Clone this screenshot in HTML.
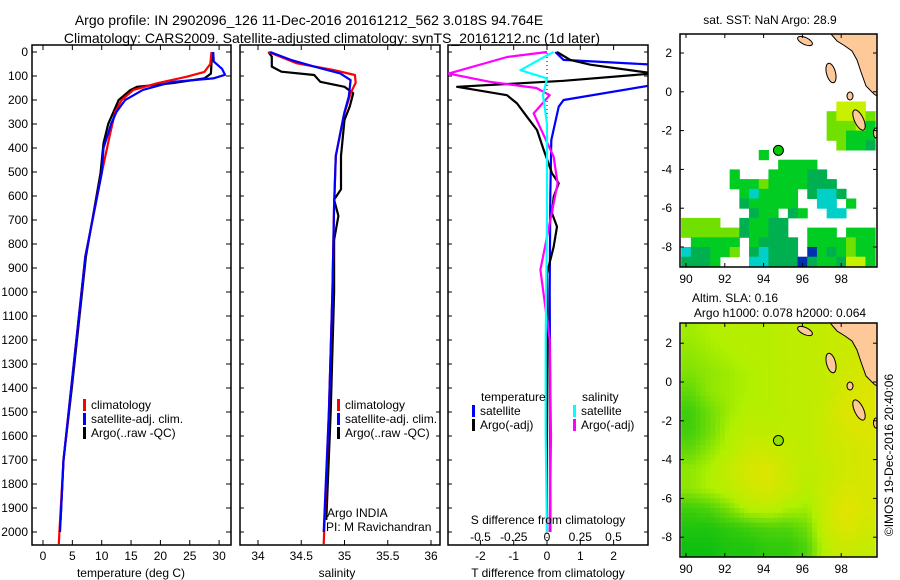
<!DOCTYPE html>
<html><head><meta charset="utf-8"><style>
body{margin:0;background:#fff;}
svg{display:block;font-family:"Liberation Sans",sans-serif;}
</style></head><body>
<svg id="fig" width="900" height="580" viewBox="0 0 900 580">
<g id="titles" font-size="14" text-anchor="middle">
<text x="309" y="25">Argo profile: IN 2902096_126 11-Dec-2016 20161212_562 3.018S 94.764E</text>
<text x="332" y="43">Climatology: CARS2009. Satellite-adjusted climatology: synTS_20161212.nc (1d later)</text>
</g>
</svg>
<script>
// ---------- data ----------
const depthTicks = [0,100,200,300,400,500,600,700,800,900,1000,1100,1200,1300,1400,1500,1600,1700,1800,1900,2000];
const tempTicks = [0,5,10,15,20,25,30];
const salTicks = [34,34.5,35,35.5,36];
const tdiffTicks = [-2,-1,0,1,2];
const sdiffTicks = [-0.5,-0.25,0,0.25,0.5];
const sdiffTickLabels = ["-0.5","-0.25","0","0.25","0.5"];

const tClimDepth = [0,50,83,103,130,158,200,249,345,505,853,1400,1700,2000,2050];
const tClimVal   = [28.7,28.5,27.5,24.5,19.5,15.4,13.4,12.3,11.4,10.0,7.2,4.8,3.5,2.8,2.7];
const tSatDepth  = [0,40,70,95,110,125,158,200,250,300,400,505,853,1400,1700,2000];
const tSatVal    = [29,29.1,30.5,31,29,22,17,14,12.5,11.6,10.3,10.0,7.2,4.8,3.5,2.9];
const tArgoDepth = [0,90,110,130,145,160,200,300,380,505,853,1400,1700,1950];
const tArgoVal   = [28.8,28.6,27.5,22,16,14.8,12.9,11.1,10.3,9.8,7.3,4.9,3.5,3.0];

const sClimDepth = [0,47,75,96,128,172,267,433,640,1000,1500,2050];
const sClimVal   = [34.12,34.45,34.87,35.12,35.13,35.07,34.99,34.9,34.88,34.86,34.82,34.76];
const sSatDepth  = [0,33,61,89,117,186,250,433,640,1000,1500,2000];
const sSatVal    = [34.14,34.38,34.65,34.95,35.07,35.05,35.0,34.9,34.88,34.86,34.82,34.76];
const sArgoDepth = [0,19,61,82,96,124,145,172,228,283,433,572,615,683,783,1000,1500,1950];
const sArgoVal   = [34.12,34.16,34.16,34.27,34.65,34.72,35.0,35.1,35.06,35.0,34.96,34.96,34.88,34.93,34.88,34.88,34.84,34.79];

const dTSatDepth = [0,33,53,137,200,228,367,600,1000,1500,2000];
const dTSatVal   = [0.25,0.5,3.2,3.2,0.5,0.35,0.13,0.1,0.08,0.1,0.1];
const dTArgoDepth= [0,33,53,89,120,145,180,214,270,325,408,505,547,603,672,728,811,922,1200,1600,2000];
const dTArgoVal  = [0.3,0.7,1.3,3.2,0.5,-2.7,-1.2,-0.9,-0.6,-0.3,-0.1,0.15,0.35,0.2,0.15,0.3,0.2,0.0,0.02,0.0,0.0];
const dSArgoDepth= [0,21,90,124,150,180,256,436,547,686,908,1200,1600,2000];
const dSArgoVal  = [0,-0.3,-0.74,-0.43,-0.08,0.02,-0.1,0.05,0.08,0.03,-0.05,0.02,0.03,0.02];
const dSSatDepth = [0,14,76,110,180,300,700,1200,1600,2000];
const dSSatVal   = [0.05,0.0,-0.2,0.0,-0.03,0.0,0.0,-0.01,-0.01,0.0];

// SST map cells: rows top lat, 0.5deg columns from lon 89.75
const sstRowLat = [-0.5,-1.0,-1.5,-2.0,-2.5,-3.0,-3.5,-4.0,-4.5,-5.0,-5.5,-6.0,-6.5,-7.0,-7.5,-8.0,-8.5];
const sstRows = [
"................yyy.",
"...............lyyyl",
"...............lllyg",
"...............llggg",
"................lggt",
"........g...........",
"..........gggg......",
".....g...ggggtt.....",
".....ggglggggttt....",
"......gcgggg.tcct...",
"......tggggg..cc.g..",
".......tgg.tg..cc...",
"llll..tggtt.........",
"lllllltggtt..ggg.ggg",
".ggggg.gtttt.gggglgg",
"cttggl.tcttt.bgtglgg",
"tttg...cctttbtggtyyg"];
// SLA map: 1deg cells, rows lat 3..-9, lon 89.75..
const slaRowLat = [3,2,1,0,-1,-2,-3,-4,-5,-6,-7,-8];
const slaVals = [
[0.45,0.5,0.55,0.55,0.55,0.6,0.6,0.65,0.7,0.7],
[0.4,0.45,0.5,0.55,0.55,0.6,0.6,0.65,0.7,0.75],
[0.35,0.4,0.45,0.5,0.55,0.6,0.6,0.65,0.75,0.8],
[0.25,0.4,0.45,0.5,0.55,0.6,0.6,0.65,0.8,0.85],
[0.15,0.3,0.45,0.55,0.55,0.6,0.6,0.7,0.85,0.85],
[0.15,0.3,0.5,0.6,0.6,0.6,0.6,0.7,0.8,0.85],
[0.25,0.4,0.55,0.7,0.7,0.65,0.6,0.7,0.75,0.8],
[0.4,0.5,0.65,0.8,0.85,0.7,0.6,0.65,0.75,0.8],
[0.4,0.5,0.6,0.75,0.8,0.7,0.55,0.7,0.8,0.8],
[0.15,0.2,0.35,0.55,0.6,0.5,0.45,0.7,0.9,0.8],
[0.05,0.05,0.1,0.15,0.2,0.2,0.3,0.7,0.85,0.75],
[0.0,0.0,0.05,0.05,0.1,0.1,0.2,0.6,0.7,0.65]];
const lonTicks = [90,92,94,96,98];
const latTicks = [2,0,-2,-4,-6,-8];
const argoLon = 94.764, argoLat = -3.018;

// ---------- helpers ----------
const NS="http://www.w3.org/2000/svg";
const svg=document.getElementById('fig');
function mk(tag,attrs,parent){const e=document.createElementNS(NS,tag);for(const k in attrs)e.setAttribute(k,attrs[k]);(parent||svg).appendChild(e);return e;}
function txt(x,y,s,parent,extra){const t=mk('text',Object.assign({x:x,y:y,'font-size':12},extra||{}),parent);t.textContent=s;return t;}
const yD=d=>52+d*0.24;
const xT=t=>43+t*5.87;
const xS=s=>258+(s-34)*86.5;
const xDT=v=>547+v*33.3;
const xDS=v=>547+v*133;

function panel(name,x0,x1){
  const g=mk('g',{});
  
  
  const r=mk('rect',{x:x0,y:45,width:x1-x0,height:500,fill:'none',stroke:'#000','stroke-width':1.5},g);
  
  
  const clip=mk('clipPath',{id:'clip-'+name},svg);
  mk('rect',{x:x0,y:45,width:x1-x0,height:500},clip);
  return g;
}
function line(g,depths,vals,fx,color,name,clipId,w){
  const p=depths.map((d,i)=>fx(vals[i]).toFixed(1)+','+yD(d).toFixed(1)).join(' ');
  const e=mk('polyline',{points:p,fill:'none',stroke:color,'stroke-width':w||2.2,'clip-path':'url(#'+clipId+')','stroke-linejoin':'round'},g);
  
  
}
function xticks(g,ticks,fx,labels,ly){
  ticks.forEach((t,i)=>{const x=fx(t);
    mk('line',{x1:x,y1:45,x2:x,y2:50,stroke:'#000'},g);
    mk('line',{x1:x,y1:545,x2:x,y2:540,stroke:'#000'},g);
    const l=txt(x,ly,labels?labels[i]:String(t),g,{'text-anchor':'middle'});
    
    
  });
}
function legend(g,x,y,items){
  items.forEach((it,i)=>{
    mk('rect',{x:x,y:y+i*14-10,width:3,height:12,fill:it[0]},g);
    const l=txt(x+8,y+i*14,it[1],g);
    
    
  });
}

// ---------- panel 1 temperature ----------
const p1=panel('temperature-panel',32,231);
depthTicks.forEach(d=>{const y=yD(d);
  mk('line',{x1:32,y1:y,x2:37,y2:y,stroke:'#000'},p1);
  mk('line',{x1:231,y1:y,x2:226,y2:y,stroke:'#000'},p1);
  const l=txt(28,y+4,String(d),p1,{'text-anchor':'end'});
  
  
});
xticks(p1,tempTicks,xT,null,560);
line(p1,tArgoDepth,tArgoVal,xT,'#000','temp-argo-line','clip-temperature-panel');
line(p1,tClimDepth,tClimVal,xT,'#f00','temp-climatology-line','clip-temperature-panel');
line(p1,tSatDepth,tSatVal,xT,'#00f','temp-satellite-line','clip-temperature-panel');
legend(p1,83,409,[['#f00','climatology'],['#00f','satellite-adj. clim.'],['#000','Argo(..raw -QC)']]);
const at1=txt(131,577,'temperature (deg C)',p1,{'text-anchor':'middle'});



// ---------- panel 2 salinity ----------
const p2=panel('salinity-panel',240,440);
depthTicks.forEach(d=>{const y=yD(d);
  mk('line',{x1:240,y1:y,x2:244,y2:y,stroke:'#000'},p2);
  mk('line',{x1:440,y1:y,x2:436,y2:y,stroke:'#000'},p2);
});
xticks(p2,salTicks,xS,null,560);
line(p2,sArgoDepth,sArgoVal,xS,'#000','sal-argo-line','clip-salinity-panel');
line(p2,sClimDepth,sClimVal,xS,'#f00','sal-climatology-line','clip-salinity-panel');
line(p2,sSatDepth,sSatVal,xS,'#00f','sal-satellite-line','clip-salinity-panel');
legend(p2,337,409,[['#f00','climatology'],['#00f','satellite-adj. clim.'],['#000','Argo(..raw -QC)']]);
const at2=txt(337,577,'salinity',p2,{'text-anchor':'middle'});


const pi1=txt(327,517,'Argo INDIA',p2);


const pi2=txt(326,531,'PI: M Ravichandran',p2);



// ---------- panel 3 differences ----------
const p3=panel('difference-panel',448,648);
depthTicks.forEach(d=>{const y=yD(d);
  mk('line',{x1:448,y1:y,x2:452,y2:y,stroke:'#000'},p3);
  mk('line',{x1:648,y1:y,x2:644,y2:y,stroke:'#000'},p3);
});
xticks(p3,tdiffTicks,xDT,null,560);
sdiffTicks.forEach((t,i)=>{const l=txt(xDS(t),541,sdiffTickLabels[i],p3,{'text-anchor':'middle'});
  
  });
mk('line',{x1:xDT(0),y1:45,x2:xDT(0),y2:545,stroke:'#000','stroke-dasharray':'1,3'},p3);
line(p3,dTSatDepth,dTSatVal,xDT,'#00f','tdiff-satellite-line','clip-difference-panel');
line(p3,dTArgoDepth,dTArgoVal,xDT,'#000','tdiff-argo-line','clip-difference-panel');
line(p3,dSArgoDepth,dSArgoVal,xDS,'#f0f','sdiff-argo-line','clip-difference-panel');
line(p3,dSSatDepth,dSSatVal,xDS,'#0ff','sdiff-satellite-line','clip-difference-panel');
txt(481,401,'temperature',p3);
txt(582,401,'salinity',p3);
legend(p3,472,415,[['#00f','satellite'],['#000','Argo(-adj)']]);
legend(p3,573,415,[['#0ff','satellite'],['#f0f','Argo(-adj)']]);
const sdt=txt(548,524,'S difference from climatology',p3,{'text-anchor':'middle'});


const tdt=txt(548,577,'T difference from climatology',p3,{'text-anchor':'middle'});



// ---------- maps ----------
const SC=19.4;
function mapAxes(name,top,bottom,lat0y){
  const g=mk('g',{});
  
  
  const clip=mk('clipPath',{id:'clip-'+name},svg);
  mk('rect',{x:680,y:top,width:197,height:bottom-top},clip);
  const lx=lon=>686+(lon-90)*SC;
  const ly=lat=>lat0y-lat*SC;
  return {g,lx,ly,top,bottom,clipId:'clip-'+name};
}
function mapFrame(m){
  const f=mk('rect',{x:680,y:m.top,width:197,height:m.bottom-m.top,fill:'none',stroke:'#000','stroke-width':1.5},m.g);
  
  
  lonTicks.forEach(l=>{const x=m.lx(l);
    mk('line',{x1:x,y1:m.top,x2:x,y2:m.top+4,stroke:'#000'},m.g);
    mk('line',{x1:x,y1:m.bottom,x2:x,y2:m.bottom-4,stroke:'#000'},m.g);
    const t=txt(x,m.bottom+16,String(l),m.g,{'text-anchor':'middle'});
    
    });
  latTicks.forEach(l=>{const y=m.ly(l);
    mk('line',{x1:680,y1:y,x2:684,y2:y,stroke:'#000'},m.g);
    mk('line',{x1:877,y1:y,x2:873,y2:y,stroke:'#000'},m.g);
    const t=txt(672,y+4,String(l),m.g,{'text-anchor':'end'});
    
    });
}
function land(m,dy){
  const outer=mk('g',{'clip-path':'url(#'+m.clipId+')'},m.g);
  const g=mk('g',{transform:'translate(0,'+dy+')',fill:'#fdc998',stroke:'#000','stroke-width':1},outer);
  
  
  mk('polygon',{points:'829,20 831,34 837,41 845,46 852,51 857,60 861,72 866,86 874,94 880,98 880,20'},g);
  mk('ellipse',{cx:805,cy:41,rx:8,ry:3.5,transform:'rotate(25 805 41)'},g);
  mk('ellipse',{cx:831,cy:73,rx:4.5,ry:10,transform:'rotate(-15 831 73)'},g);
  mk('ellipse',{cx:859,cy:120,rx:4.5,ry:11,transform:'rotate(-25 859 120)'},g);
  mk('ellipse',{cx:876,cy:133,rx:2.5,ry:5},g);
  mk('ellipse',{cx:850,cy:96,rx:3,ry:4},g);
}
const sstColors={b:'#0030b0',c:'#00d0c8',t:'#00b050',g:'#00cc22',l:'#70e000',y:'#c8f000'};
const m1=mapAxes('sst-map',34,267,91.8);
const cg1=mk('g',{'clip-path':'url(#'+m1.clipId+')'},m1.g);
sstRows.forEach((row,r)=>{for(let c=0;c<row.length;c++){const ch=row[c];if(ch==='.')continue;
  const lon=89.75+c*0.5;const lat=sstRowLat[r];
  const e=mk('rect',{x:m1.lx(lon),y:m1.ly(lat),width:SC*0.5+0.5,height:SC*0.5+0.5,fill:sstColors[ch]},cg1);
  
  }});
land(m1,0);
mapFrame(m1);
const mk1=mk('circle',{cx:m1.lx(argoLon),cy:m1.ly(argoLat),r:5,fill:'#00cc00',stroke:'#000'},m1.g);


const mt1=txt(770,24,'sat. SST: NaN Argo: 28.9',m1.g,{'text-anchor':'middle'});



function slaColor(v){
  let a,b,t;
  if(v<0.5){a=[16,192,16];b=[176,240,0];t=v/0.5;}else{a=[176,240,0];b=[240,224,0];t=(v-0.5)/0.5;}
  const c=a.map((x,i)=>Math.round(x+(b[i]-x)*t));return 'rgb('+c.join(',')+')';
}
function slaAt(fc,fr){ // fractional col/row in cell-center index space
  const nr=slaVals.length,nc=slaVals[0].length;
  fc=Math.max(0,Math.min(nc-1,fc));fr=Math.max(0,Math.min(nr-1,fr));
  const c0=Math.floor(fc),r0=Math.floor(fr),c1=Math.min(nc-1,c0+1),r1=Math.min(nr-1,r0+1);
  const tc=fc-c0,tr=fr-r0;
  const a=slaVals[r0][c0]*(1-tc)+slaVals[r0][c1]*tc;
  const b=slaVals[r1][c0]*(1-tc)+slaVals[r1][c1]*tc;
  return a*(1-tr)+b*tr;
}
const m2=mapAxes('sla-map',323,557,382);
const cg2=mk('g',{'clip-path':'url(#'+m2.clipId+')'},m2.g);
const SUB=4;
for(let r=0;r<slaVals.length*SUB;r++){for(let c=0;c<slaVals[0].length*SUB;c++){
  const fc=(c+0.5)/SUB-0.5, fr=(r+0.5)/SUB-0.5;
  const lon=89.75+c/SUB, lat=slaRowLat[0]-r/SUB;
  const e=mk('rect',{x:m2.lx(lon),y:m2.ly(lat),width:SC/SUB+0.6,height:SC/SUB+0.6,fill:slaColor(slaAt(fc,fr))},cg2);
  
  
}}
land(m2,290);
mapFrame(m2);
const mk2=mk('circle',{cx:m2.lx(argoLon),cy:m2.ly(argoLat),r:5,fill:'#90e000',stroke:'#000'},m2.g);


const mt2=txt(735,302,'Altim. SLA: 0.16',m2.g,{'text-anchor':'middle'});


const mt3=txt(780,317,'Argo h1000: 0.078 h2000: 0.064',m2.g,{'text-anchor':'middle'});


const cr=txt(0,0,'©IMOS 19-Dec-2016 20:40:06',svg,{'text-anchor':'middle',transform:'translate(893,455) rotate(-90)'});


</script>
</body></html>
